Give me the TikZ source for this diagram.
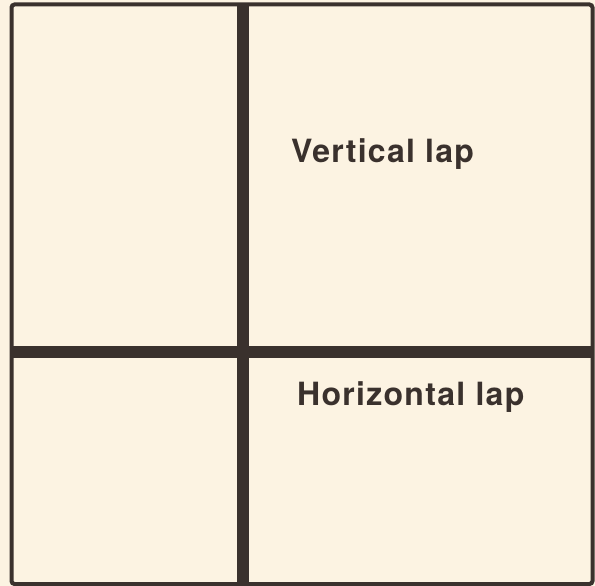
\documentclass[tikz,border=0pt]{standalone}
\usepackage{fontspec}
\setmainfont{TeX Gyre Heros}
\newfontfamily\lapfont[LetterSpace=4]{TeX Gyre Heros}
\definecolor{paper}{HTML}{FCF3E2}
\definecolor{ink}{HTML}{3A312D}
\tikzset{frame/.style={draw=ink,line width=4pt},
         bar/.style={draw=ink,line width=12pt},
         lab/.style={anchor=base west,inner sep=0pt,text=ink,font=\lapfont\bfseries\fontsize{32}{36}\selectfont}}

\begin{document}
\begin{tikzpicture}[x=1pt,y=-1pt]
  \fill[paper] (0,0) rectangle (595,586);
  \useasboundingbox (0,0) rectangle (595,586);
  \draw[frame,rounded corners=3pt] (11.5,4.5) rectangle (592.5,584);
  \draw[bar] (243,4.5)--(243,584);
  \draw[bar] (11.5,352)--(592.5,352);
  \node[lab] (vlap) at (291,162) {Vertical lap};
  \node[lab] (hlap) at (297,405) {Horizontal lap};
\end{tikzpicture}
\end{document}
